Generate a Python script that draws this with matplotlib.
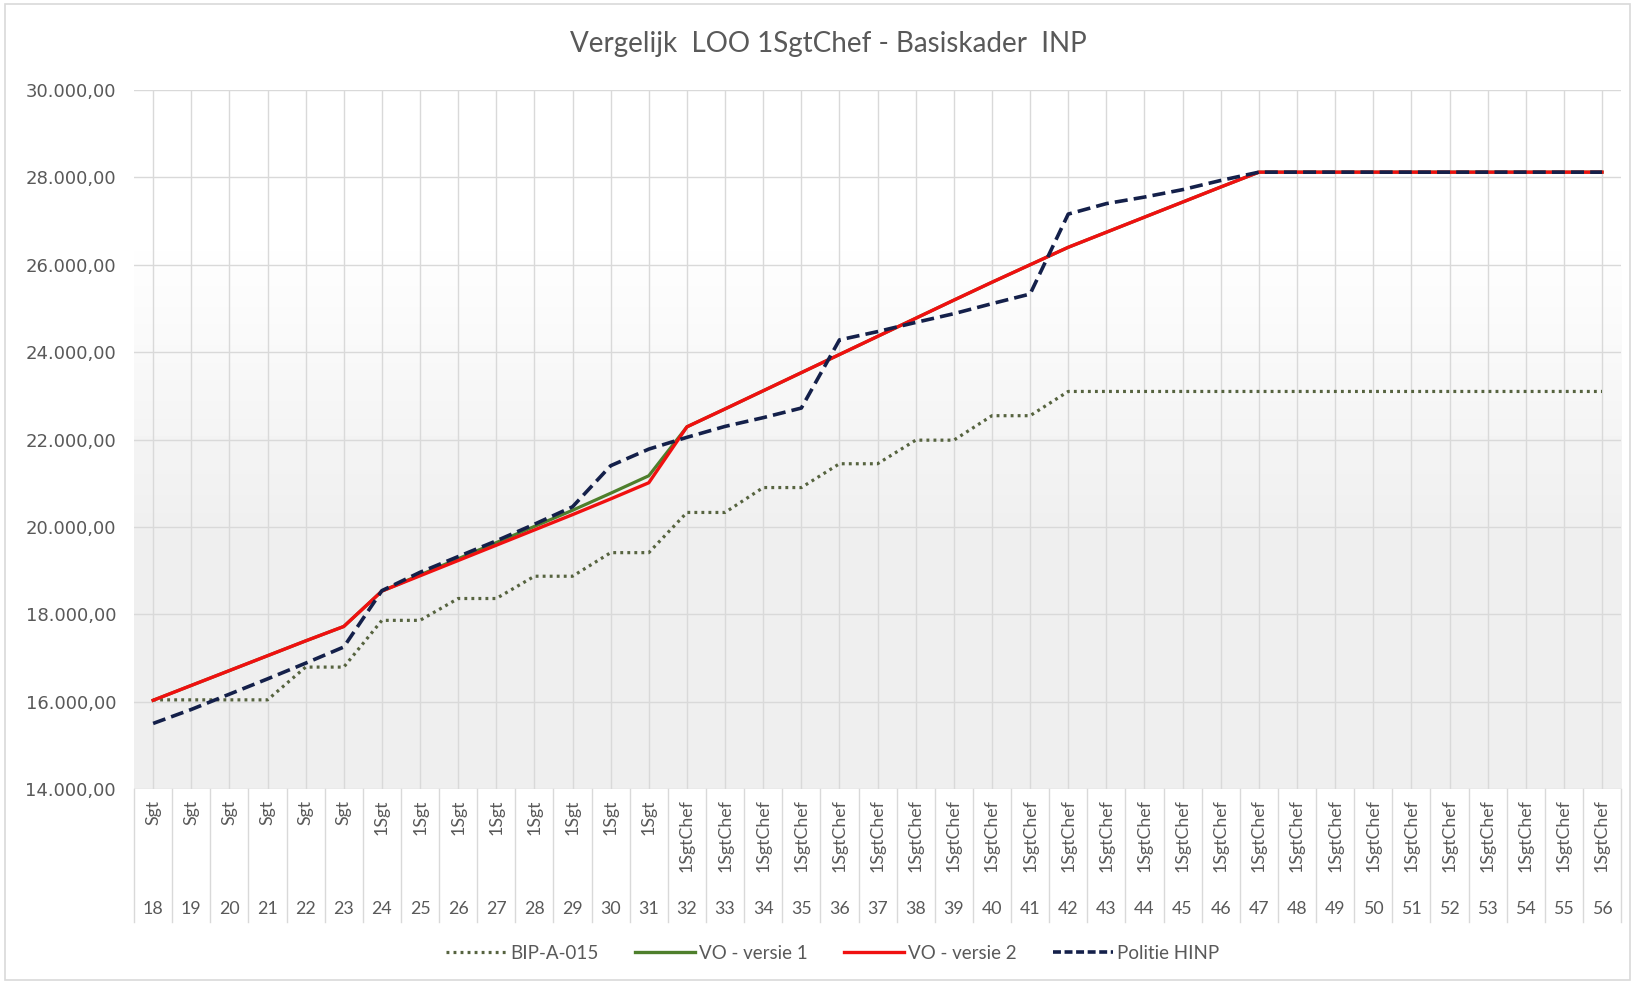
import numpy as np
import matplotlib
matplotlib.use('Agg')
import matplotlib.pyplot as plt
from matplotlib.lines import Line2D
from matplotlib.patches import Rectangle
import matplotlib.transforms as mtransforms

# --- data ---
levels = list(range(18, 57))
ranks = ['Sgt'] * 6 + ['1Sgt'] * 8 + ['1SgtChef'] * 25

bip_a_015 = [16040, 16040, 16040, 16040, 16790, 16790, 17860, 17860, 18360, 18360,
             18870, 18870, 19410, 19410, 20330, 20330, 20900, 20900, 21445, 21445,
             21985, 21985, 22545, 22545] + [23100] * 15

vo_versie_1 = [16030, 16370, 16710, 17050, 17390, 17720,
               18530, 18900, 19270, 19640, 20010, 20380, 20770, 21170,
               22290, 22700, 23115, 23530, 23945, 24360, 24775, 25190, 25600,
               26000, 26400, 26745, 27090, 27435, 27780, 28120] + [28120] * 9

vo_versie_2 = [16030, 16370, 16710, 17050, 17390, 17720,
               18530, 18880, 19230, 19580, 19930, 20280, 20640, 21010,
               22290, 22700, 23115, 23530, 23945, 24360, 24775, 25190, 25600,
               26000, 26400, 26745, 27090, 27435, 27780, 28120] + [28120] * 9

politie_hinp = [15500, 15820, 16170, 16520, 16880, 17250,
                18540, 18960, 19320, 19680, 20060, 20460, 21400, 21780,
                22050, 22300, 22500, 22720, 24280, 24470, 24680, 24880, 25110,
                25330, 27160, 27400, 27550, 27720, 27930, 28120] + [28120] * 9

y_ticks = [14000, 16000, 18000, 20000, 22000, 24000, 26000, 28000, 30000]

grey_txt = '#595959'
grid_col = '#d9d9d9'

fig = plt.figure(figsize=(16.33, 9.84), dpi=100)
ax = fig.add_axes([0.0821, 0.1982, 0.9106, 0.7103])

x = np.arange(len(levels))

# plot area background: white at top fading to light grey
yy = np.linspace(0, 1, 200)
shade = 1.0 - 0.065 * np.clip((yy - 0.2) / 0.45, 0, 1)
grad = np.tile(shade[:, None], (1, 2))
ax.imshow(grad, cmap='gray', vmin=0, vmax=1, extent=[0, 1, 0, 1],
          transform=ax.transAxes, aspect='auto', zorder=0, origin='upper')

ax.plot(x, bip_a_015, color='#56633f', lw=2.3, linestyle=(0, (0.9, 1.3)), zorder=3)
ax.plot(x, vo_versie_1, color='#4e7f2c', lw=2.3, zorder=4)
ax.plot(x, vo_versie_2, color='#f01010', lw=2.4, zorder=5)
ax.plot(x, politie_hinp, color='#14204a', lw=2.6, linestyle=(0, (3.6, 1.7)), zorder=6)

ax.set_xlim(-0.5, len(levels) - 0.5)
ax.set_ylim(14000, 30000)
ax.set_yticks(y_ticks)
ax.set_yticklabels([f'{v:,.2f}'.replace(',', 'X').replace('.', ',').replace('X', '.') for v in y_ticks])
ax.set_xticks(x)
ax.set_xticklabels([])
ax.tick_params(axis='both', length=0)
ax.tick_params(axis='y', pad=13, labelsize=13, labelcolor=grey_txt)
for lab in ax.get_yticklabels():
    lab.set_family('DejaVu Sans')
ax.grid(True, color=grid_col, lw=1.0)
ax.set_axisbelow(True)
for s in ax.spines.values():
    s.set_visible(False)

# multi-level category labels below the plot
trans = mtransforms.blended_transform_factory(ax.transData, ax.transAxes)
for i in range(len(levels) + 1):
    ax.plot([i - 0.5, i - 0.5], [0, -0.19], transform=trans, color=grid_col,
            lw=1.0, clip_on=False, zorder=1)
for i, (lv, rk) in enumerate(zip(levels, ranks)):
    ax.text(i, -0.015, rk, transform=trans, rotation=90, ha='center', va='top',
            fontsize=12.8, color=grey_txt, family='Lato')
    ax.text(i, -0.172, str(lv), transform=trans, ha='center', va='center',
            fontsize=12.8, color=grey_txt, family='Lato')

fig.text(0.507, 0.955, 'Vergelijk  LOO 1SgtChef - Basiskader  INP', ha='center',
         va='center', fontsize=20, color=grey_txt, family='Lato')

handles = [
    Line2D([], [], color='#56633f', lw=2.3, linestyle=(0, (0.9, 1.3))),
    Line2D([], [], color='#4e7f2c', lw=2.4),
    Line2D([], [], color='#f01010', lw=2.4),
    Line2D([], [], color='#14204a', lw=2.6, linestyle=(0, (2.2, 1.0))),
]
leg = fig.legend(handles, ['BIP-A-015', 'VO - versie 1', 'VO - versie 2', 'Politie HINP'],
                 loc='center', bbox_to_anchor=(0.51, 0.031), ncol=4, frameon=False,
                 handlelength=3.2, handletextpad=0.25, columnspacing=1.9,
                 prop={'family': 'Lato', 'size': 13.5})
for t in leg.get_texts():
    t.set_color(grey_txt)

fig.patches.append(Rectangle((0.003, 0.004), 0.995, 0.992, transform=fig.transFigure,
                             fill=False, edgecolor=grid_col, lw=1.2))

fig.savefig('out.png', dpi=100)
